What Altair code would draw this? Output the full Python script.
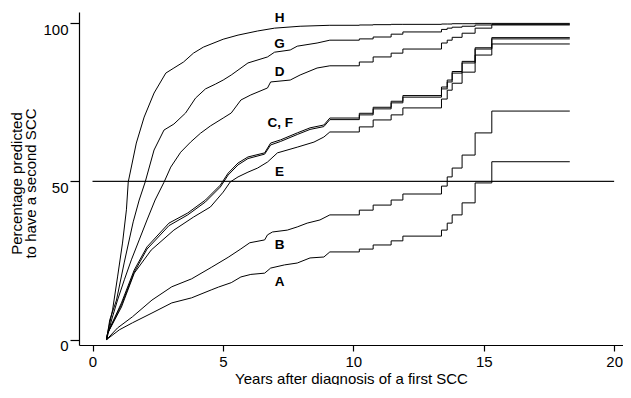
import altair as alt
import pandas as pd

FONT = "Liberation Sans"
END_X = 18.3

# Shared late step times (years)
STEP_X = [10.23, 10.76, 11.45, 11.90, 13.38, 13.60, 13.79, 14.17, 14.67, 15.31]

# Early (smooth) part of each curve: years and percentages; then values after each late step
H_x = [0.54, 0.58, 0.77, 0.96, 1.15, 1.30, 1.37, 1.68, 1.98, 2.36, 2.81, 3.12, 3.49, 3.87, 4.25, 5.01, 5.58, 6.33, 6.98, 7.96, 9.10]
H_y = [0, 2.1, 9.4, 19.8, 30.5, 41.0, 49.8, 62.1, 70.3, 77.9, 84.2, 85.8, 87.7, 90.5, 92.4, 94.9, 96.2, 97.5, 98.4, 99.0, 99.3]
H_s = [99.4, 99.5, 99.6, 99.6, 99.7, 99.7, 99.8, 99.8, 99.9, 99.9]

G_x = [0.54, 0.66, 0.92, 1.22, 1.56, 1.79, 2.02, 2.36, 2.74, 3.12, 3.57, 3.95, 4.33, 4.71, 5.01, 5.32, 5.96, 6.71, 6.98, 7.58, 7.85, 8.61, 9.10]
G_y = [0, 6.2, 12.5, 24.5, 37.2, 44.1, 49.8, 59.9, 66.2, 68.1, 71.6, 76.3, 79.2, 80.7, 82.0, 83.6, 87.4, 89.3, 90.8, 91.5, 92.7, 93.7, 94.6]
G_s = [95.0, 95.6, 96.5, 97.2, 98.0, 98.4, 98.7, 99.0, 99.4, 99.6]

D_x = [0.54, 0.73, 0.96, 1.22, 1.49, 1.79, 2.09, 2.40, 2.74, 3.00, 3.38, 3.76, 4.14, 4.52, 5.01, 5.32, 5.69, 6.07, 6.71, 6.83, 7.58, 7.96, 8.61, 9.10]
D_y = [0, 6.2, 12.5, 18.9, 25.2, 31.5, 37.8, 44.1, 49.7, 54.5, 59.2, 62.4, 65.2, 67.5, 70.0, 71.6, 75.7, 77.3, 79.5, 81.4, 82.0, 83.6, 85.8, 86.5]
D_s = [87.7, 89.3, 90.5, 91.8, 93.7, 94.6, 95.5, 96.8, 98.4, 99.4]

C_x = [0.54, 0.58, 1.11, 1.60, 2.09, 2.93, 3.65, 4.33, 4.90, 5.20, 5.58, 5.96, 6.60, 6.83, 7.21, 7.85, 8.34, 8.87, 9.10]
C_y = [0, 2.1, 11.6, 22.0, 29.3, 36.8, 40.0, 44.1, 48.8, 52.6, 55.8, 57.7, 59.0, 62.1, 63.1, 65.3, 66.9, 67.8, 70.0]
C_s = [71.0, 72.9, 74.8, 76.6, 79.2, 81.4, 84.2, 87.4, 91.8, 95.0]

F_x = [0.54, 0.58, 1.11, 1.60, 2.09, 2.93, 3.65, 4.33, 4.90, 5.20, 5.58, 5.96, 6.60, 6.83, 7.21, 7.85, 8.34, 8.87, 9.10]
F_y = [0, 2.0, 11.0, 21.3, 28.6, 36.0, 39.4, 43.5, 48.2, 52.0, 55.2, 57.2, 58.6, 61.5, 62.6, 64.8, 66.4, 67.3, 69.5]
F_s = [71.5, 73.4, 75.3, 77.1, 79.8, 82.0, 84.7, 87.9, 92.2, 95.4]

E_x = [0.54, 0.58, 1.11, 1.60, 2.25, 3.12, 3.87, 4.52, 5.01, 5.28, 5.58, 5.96, 6.33, 6.71, 7.09, 7.85, 8.49, 8.87, 9.10]
E_y = [0, 2.0, 10.3, 21.0, 28.3, 34.6, 38.7, 41.9, 46.6, 49.8, 51.4, 52.9, 54.2, 56.1, 59.0, 60.8, 62.4, 64.0, 65.6]
E_s = [67.2, 69.4, 71.0, 73.2, 76.0, 78.8, 81.0, 84.5, 89.9, 93.4]

B_x = [0.54, 0.96, 1.53, 2.28, 3.04, 3.80, 4.55, 5.20, 5.66, 6.03, 6.60, 6.71, 6.90, 7.47, 7.85, 8.23, 8.72, 9.10]
B_y = [0, 3.7, 7.2, 12.5, 16.7, 19.2, 22.8, 26.0, 28.5, 30.6, 31.5, 33.1, 34.0, 34.6, 35.6, 36.8, 37.8, 39.4]
B_s = [40.9, 42.5, 44.1, 46.0, 48.5, 51.4, 54.2, 58.3, 65.3, 72.2]

A_x = [0.54, 1.03, 1.53, 2.28, 3.04, 3.80, 4.55, 4.83, 5.32, 5.69, 6.07, 6.60, 6.83, 7.36, 7.85, 8.34, 8.87, 9.10]
A_y = [0, 3.1, 5.3, 8.4, 11.6, 13.2, 15.7, 16.6, 18.0, 19.8, 20.6, 21.0, 22.6, 23.6, 24.2, 25.8, 26.1, 27.7]
A_s = [28.6, 29.9, 31.2, 32.7, 34.6, 36.8, 39.4, 43.2, 49.5, 56.2]

# Curve labels
LABELS = ["H", "G", "D", "C, F", "E", "B", "A"]
LABEL_X = [7.17, 7.17, 7.17, 7.2, 7.17, 7.17, 7.17]
LABEL_Y = [101.7, 93.5, 84.7, 68.4, 52.9, 29.9, 18.2]

curves = {
    "H": (H_x, H_y, H_s), "G": (G_x, G_y, G_s), "D": (D_x, D_y, D_s),
    "C": (C_x, C_y, C_s), "F": (F_x, F_y, F_s), "E": (E_x, E_y, E_s),
    "B": (B_x, B_y, B_s), "A": (A_x, A_y, A_s),
}

rows = []
for name, (xs_, ys_, ss) in curves.items():
    i = 0
    for x, y in zip(xs_, ys_):
        rows.append({"curve": name, "x": x, "y": y, "i": i}); i += 1
    cur = ys_[-1]
    for sx, sy in zip(STEP_X, ss):
        rows.append({"curve": name, "x": sx, "y": cur, "i": i}); i += 1
        rows.append({"curve": name, "x": sx, "y": sy, "i": i}); i += 1
        cur = sy
    rows.append({"curve": name, "x": END_X, "y": cur, "i": i})
df = pd.DataFrame(rows)

lab = pd.DataFrame({"t": LABELS, "x": LABEL_X, "y": LABEL_Y})
ref = pd.DataFrame({"x": [0], "x2": [20], "y": [50]})

xs = alt.Scale(domain=[-0.518, 20.34], nice=False, zero=False)
ys = alt.Scale(domain=[-1.7, 103.5], nice=False, zero=False)

xaxis = alt.Axis(values=[0, 5, 10, 15, 20], title="Years after diagnosis of a first SCC",
                 grid=False, tickSize=6, labelPadding=3, titleY=38, titleBaseline="alphabetic")
yaxis = alt.Axis(values=[0, 50, 100], title=["Percentage predicted", "to have a second SCC"],
                 grid=False, tickSize=9, labelPadding=2, labelOffset=6,
                 titleX=-55, titleY=171, titleLineHeight=14)

lines = alt.Chart(df).mark_line(color="#000", strokeWidth=1, interpolate="linear").encode(
    x=alt.X("x:Q", scale=xs, axis=xaxis),
    y=alt.Y("y:Q", scale=ys, axis=yaxis),
    detail="curve:N",
    order="i:Q",
)

rule = alt.Chart(ref).mark_rule(color="#111", strokeWidth=1.2).encode(
    x=alt.X("x:Q", scale=xs), x2="x2:Q", y=alt.Y("y:Q", scale=ys)
)

texts = alt.Chart(lab).mark_text(font=FONT, fontSize=13.5, fontWeight="bold", color="#000",
                                 align="center", baseline="middle").encode(
    x=alt.X("x:Q", scale=xs), y=alt.Y("y:Q", scale=ys), text="t:N"
)

chart = alt.layer(rule, lines, texts).properties(
    width=544, height=333,
    autosize=alt.AutoSizeParams(type="none"),
    padding={"left": 71, "top": 4, "right": 0, "bottom": 40},
    background="white",
).configure_view(stroke=None).configure_axis(
    labelFont=FONT, titleFont=FONT, labelFontSize=15, titleFontSize=15,
    titleFontWeight="normal", labelColor="#000", titleColor="#000",
    domainColor="#000", tickColor="#000", domainWidth=1.2, tickWidth=1.2,
)

chart.save("out.html", embed_options={"renderer": "svg", "actions": False})
